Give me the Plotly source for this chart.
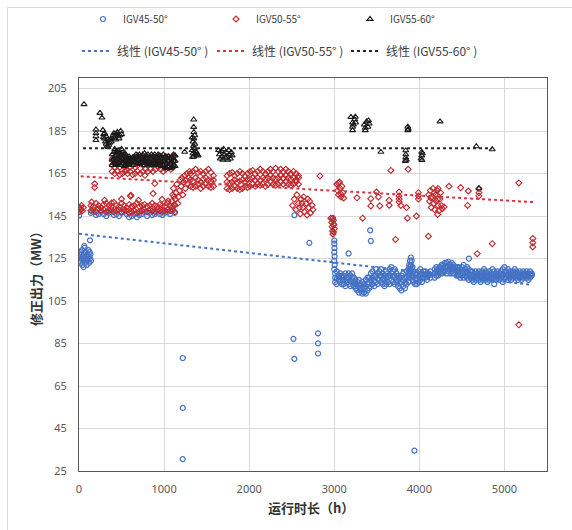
import plotly.graph_objects as go

# ================= DATA =================
# --- IGV45-50 (blue circles) ---
blue_start_x = [5,10,15,20,25,30,35,40,45,50,55,60,62,65,70,75,80,85,90,95,100,105,110,115,120,125,129,130,135,140]
blue_start_y = [126,124,128,123,127,125,129,122,126,124,121,127,131,130,125,123,128,126,122,124,127,125,129,126,123,128,133.6,125,127,124]

blue_low_x = [140,170,200,230,260,290,320,350,380,410,440,470,500,530,560,590,620,650,680,710,740,770,800,830,860,890,920,950,980,1010,1040,1070,1100,1125]
blue_low_y = [146.5,147,145.5,146,147,146,145,146.5,147,145.5,146,145,146.5,147,146,144.5,145,146,144.5,145.5,146,147,145,146.5,145.5,146,147,146,145.5,146.5,147,146,147.5,146.5]

blue_points = [(0,145.3),(1219,78.2),(1219,54.7),(1219,30.6),(2520,87.2),(2531,77.8),(2809,89.8),(2809,85.1),
               (2809,80.3),(2531,145.4),(2707,132.4),(3168,127.4),(3422,138.3),(3430,133.3),(3942,34.6),(4583,125),
               (2985,144),(2990,141),(3000,133.5),(3000,132),(3002,130),(3000,128),(3003,126),(3000,124),(3004,122),(3000,120)]

blue_band_x = [3010,3030,3050,3070,3090, 3110,3130,3150,3170,3190,3210,3230,3250, 3270,3290,3310,3330,3350,3370,3390,3410,
               3430,3450,3470,3490,3510,3530,3550,3570,3590, 3610,3630,3650,3670,3690,3710,3730,3750, 3770,3790,3810,3830,3850,
               3870,3880,3890,3900,3910,3920,3930,3950, 3970,3990,4010,4030,4050, 4070,4090,4110,4130,4180,4200,
               4220,4240,4260,4280,4300, 4320,4340,4360,4380,4400,4420,4440, 4460,4480,4500,4520,4540,4560,4580,4600,
               4620,4640,4660,4680,4700,4720,4740,4760,4780,4800, 4820,4840,4860,4880,4900,4920,4940,4960,4980,5000,
               5020,5040,5060,5080,5100,5120,5140,5160,5180,5200,5220,5240,5260,5280,5300,5320]
blue_band_lo = [114,113,115,114,113, 113,112,114,113,112,114,112,111, 110,109,110,108.5,109,108.5,110,111,
                112,113,112,114,113,115,114,113,112, 113,114,113,115,114,113,114,112, 111,110,112,111,113,
                114,116,118,119,117,115,114,113, 113,114,115,114,116, 116,115,117,116,116,117,
                117,118,118,119,119, 118,119,120,119,118,118,117, 117,116,117,116,117,116,115,116,
                115,114,115,116,115,114,115,116,115,114, 115,116,115,113,115,116,115,116,114,116,
                116,115,116,115,116,117,116,115,116,115,116,117,116,115,116,117]
blue_band_mid = [116,115.5,116.5,115,116, 115,114.5,115,116,114.5,116,114,113, 112,112.5,111,111.5,111,112,113,113.5,
                 115,116,114.5,117,115.5,117,117,115.5,114.5, 116,116.5,117,118,116.5,117,116,114.5, 113.5,114,115,113.5,116,
                 117,119,121,122,120.5,118,116.5,115.5, 115.5,116.5,117.5,116,117.5, 117.5,116.5,117.5,117.5,118,119,
                 118.5,119.5,120,120.5,121, 120.5,121,121,121,120,119.5,119, 119,118,119,119,118.5,118.5,117.5,117.5,
                 117,116,117,117,117,116,117,118,117,116, 117,117,117.5,116,116.5,117.5,116.5,117.5,117,118.5,
                 117.5,117.5,117.5,116.5,117.5,118.5,117.5,116.5,117.5,116.5,117.5,117.5,117.5,116.5,117.5,117.5]
blue_band_hi = [118,119,117,118,117, 117,118,116,118,117,118,116,115, 114,115,113,114,113,115,116,116,
                118,119,117,120,118,119,120,118,117, 119,118,120,121,119,120,118,117, 116,117,118,116,119,
                120,122,124,125.5,124,121,119,118, 118,119,120,118,119, 119,118,118,119,120,121,
                120,121,122,122,123, 123,123.5,122,123,122,121,121, 121,120,121,122,120,121,120,119,
                119,118,119,118,119,118,119,120,119,118, 119,118,120,119,118,119,118,119,120,121,
                119,120,119,118,119,120,119,118,119,118,119,118,119,118,119,118]

# --- IGV50-55 (red diamonds) ---
red_a_x = [140,170,200,230,260,290,320,350,380,410,440,470,500,530,560,590,620,650,680,710,740,770,800,830,860,890,920,950,980,1010,1040,1070,1100,1125]
red_a_lo = [147.5,148,147,148.5,147.5,148,147,147.5,148,147,147.5,148,147,148,147.5,146.5,147,147.5,146.5,147,
            147.5,148,147,148,147.5,147,148,147.5,147,147.5,148,147.5,148,147]
red_a_hi = [150,149.5,151,150,149,150.5,151,150,149.5,151.5,150,149.5,151,150,149,150.5,149.5,150,151,149.5,
            150,150.5,149.5,150,151,150,149.5,150.5,150,149.5,151,150,149.5,150]

red_b_x = [390,420,450,480,510,540,570,600,630,660,690,720,750,780,810,840,870,900,930,960,990,1020,1050,1080,1110]
red_b_lo = [166,165,166,164.5,165,166,165,166,164.5,165,166,165,166,167,166,167,166,167,168,167,166,167,168,167,168]
red_b_mid = [169,168,169,168,169,168,169,168,169,168,169,170,169,170,169,170,169,170,171,170,169,170,171,170,171]
red_b_hi = [172,171,172.5,171,173,172,171,172,171,172,171,173,172,172,171,172,171,172,173,172,172,173,173,172,173]

red_d_x = [1310,1340,1370,1400,1430,1460,1490,1520,1550,1580, 1740,1770,1800,1830,1860,1890,1920,1950,1980,2010,
           2040,2070,2100,2130,2160,2190,2220,2250,2280,2310, 2340,2370,2400,2430,2460,2490,2520,2550,2580]
red_d_lo = [159,158.5,159,160,158,159,160,159,158.5,159, 158,157.5,158,159,158,157.5,158,159,158.5,159,
            160,159,160,159.5,160,159,160,161,160,159.5, 160,161,160,161,160,159.5,160,161,160]
red_d_mid = [162,161.5,163,162,161,162.5,163,162,161.5,162, 161,160.5,161,162,161,161.5,162,161,162,162.5,
             163,162,163,162,163,162.5,163,164,163,162.5, 163,164,163,164,163,162.5,163,162,163]
red_d_hi = [165,166,167,165.5,166,165,166,167,165.5,164, 164,165,165.5,164,165,166,165,164,165,166,
            166.5,165,166,167,166,165,166,167,166,167.5, 166,167,166,167,166,165,166,165,164]

red_points = [(5,147),(10,149),(20,148),(30,150),(40,147.5),(50,149),(149,151.6),(383,151.2),(609,154.8),(871,155.6),
              (976,152.9),(1047,152.1),(1117,154.3),(625,149.3),(184,160.2),(184,158.5),(558,166.5),(774,164.2),
              (891,160.3),(605,154.3),(500,153),(700,152.5),(300,152.5),
              # rising cluster 1050-1300
              (1090,152),(1100,155),(1110,158),(1120,150.5),(1130,153),(1140,156),(1150,160),(1160,151),(1170,154),
              (1180,157),(1190,162),(1200,159),(1210,163),(1220,155),(1230,161),(1240,164),(1250,158),(1260,162),
              (1270,165),(1280,160),(1290,163),(1300,166),
              # cluster 2500-2750
              (2510,150),(2530,153),(2550,148),(2560,155),(2580,151),(2600,146),(2610,153),(2630,149),(2640,154),
              (2650,147),(2670,151),(2680,145.5),(2700,149),(2710,152),(2720,146.5),(2740,150),(2750,148),
              (2590,149),(2620,151),(2690,153),
              # near 3000
              (2960,144),(2970,142),(2975,140),(2980,138),(2985,136.5),(2990,143),(2995,141),(3000,139),(2980,144),(2990,137.5),
              (3030,160),(3040,157),(3050,155),(3060,161),(3070,158),(3080,154),(3090,159),(3100,156),(3110,153.5),
              (3050,160.5),(3075,155.5),
              # scattered 2800-5400
              (2832,163.9),(3665,166.5),(3868,167),(3267,153.6),(3430,153.2),(3496,156.3),(3519,154),(3430,149.8),
              (3535,149.8),(3645,152.4),(3645,150.1),(3762,156.3),(3762,154.5),(3762,153),(3762,151.6),(3848,149),
              (3782,150),(3989,156),(3989,154.5),(3989,153),(3333,144),(3860,144),(3965,145),(3720,134),(4106,135.5),
              (4348,159),(4485,158.4),(4575,156.8),(4567,150),(4700,158),(4700,156),(4700,154.5),(5169,160.6),
              (4680,127.3),(4856,132),(5333,134.4),(5333,132.5),(5333,130.5),(4215,145.8),(5169,93.8),
              # cluster 4100-4300
              (4110,155),(4120,152),(4130,157),(4140,149),(4150,154),(4160,158),(4170,151),(4180,148),(4190,155),
              (4200,152),(4210,157),(4220,150),(4230,147.5),(4240,153),(4250,156),(4260,150),(4270,148.5),
              (4135,153.5),(4175,156),(4215,153),(4219,158),(4290,149.3)]

# --- IGV55-60 (black triangles) ---
black_band_x = [390,410,430,450,470,490,510,530,550,570, 590,610,630,650,670,690,710,730,750,770,
                790,810,830,850,870,890,910,930,950,970, 990,1010,1030,1050,1070,1090,1110,1130]
black_band_lo = [169,170,169.5,169,170,169,170,168.5,169,170, 169.5,170,169,170.5,171,170,169.5,170,170.5,169,
                 170,169.5,170,169,170,169.5,169,170,169,168.5, 169,168,167.5,168,167.5,168,169,168.5]
black_band_mid = [171.5,172,171,172,171.5,171,172,171,171.5,171, 172,171,171.5,172,172.5,171.5,172,171,172,171.5,
                  172,171,171.5,172,171,171.5,171,172,171,170.5, 171,170.5,170,171,170,170.5,171,171]
black_band_hi = [174,175,173.5,174.5,173,174,173.5,174,173,172.5, 173,172,172.5,173,174,173.5,174,173,174,174.5,
                 173.5,174,173,174,173.5,174,173,174,173.5,173, 174,173,172.5,173,172,173,174,173.5]

black_points = [(59,197.6),(246,193.5),(270,191.3),(199,185.7),(199,184),(199,182.5),(199,180.7),(281,185.5),
                (290,183.5),(300,181.5),(310,180),(320,179),(330,178),(340,177.5),(350,178.5),(360,179.5),(370,181),
                (380,180),(390,181.5),(400,183),(410,184),(420,182),(430,181),(440,183.5),(450,184.5),(460,182.5),
                (470,181.5),(480,183),(490,185),(500,183.5),(340,181),(320,182.5),(300,184),(285,182),
                (420,176.5),(440,175.5),(460,176),(480,175),(500,176.5),(520,175),(540,174.5),
                (1242,175.2),(1348,190.4),(1348,186.9),(1330,182),(1340,180),(1350,181.5),(1360,179),(1345,178),
                (1355,177),(1330,176),(1365,175.5),(1340,174.5),(1370,174),(1350,173),(1380,175),(1390,174),
                (1400,173.5),(1335,172.8),(1360,183),(1350,184.5),
                (1640,176),(1650,174),(1660,172),(1670,175.5),(1680,173),(1690,171.5),(1700,176.5),(1710,174),
                (1720,172.5),(1730,175),(1740,173),(1750,171.5),(1760,176),(1770,174),(1780,172),(1790,175),(1800,173.5),
                (3196,191.6),(3215,189),(3215,187),(3215,185.4),(3225,188),(3240,190.5),(3247,191.7),(3250,189),
                (3352,188),(3364,186.5),(3364,185.4),(3380,189.5),(3403,190),(3410,188.5),(3395,187),
                (3864,187),(3864,185.4),(3870,186),(3548,175.2),(3840,175.9),(3840,174),(3840,172.5),(3835,170.9),
                (3845,171.5),(4028,175.2),(4028,173.5),(4020,172),(4030,171.3),(4035,174.5),(4243,189.5),
                (4669,177.8),(4856,176.4),(4700,158)]

# --- linear trend lines (start/end) ---
trend_names = ["线性 (IGV45-50° )", "线性 (IGV50-55° )", "线性 (IGV55-60° )"]
trend_x0 = [0, 20, 47]
trend_x1 = [5290, 5334, 4856]
trend_y0 = [136.7, 163.7, 176.9]
trend_y1 = [112.8, 151.6, 176.9]

series_names = ["IGV45-50°", "IGV50-55°", "IGV55-60°"]
x_ticks = [0, 1000, 2000, 3000, 4000, 5000]
y_ticks = [25, 45, 65, 85, 105, 125, 145, 165, 185, 205]

# ================= BUILD =================
assert len(blue_band_x) == len(blue_band_lo) == len(blue_band_mid) == len(blue_band_hi)
assert len(blue_start_x) == len(blue_start_y) and len(blue_low_x) == len(blue_low_y)
assert len(red_a_x) == len(red_a_lo) == len(red_a_hi)
assert len(red_b_x) == len(red_b_lo) == len(red_b_mid) == len(red_b_hi)
assert len(red_d_x) == len(red_d_lo) == len(red_d_mid) == len(red_d_hi)
assert len(black_band_x) == len(black_band_lo) == len(black_band_mid) == len(black_band_hi)

bx = blue_start_x + blue_low_x + [p[0] for p in blue_points] + blue_band_x * 3
by = blue_start_y + blue_low_y + [p[1] for p in blue_points] + blue_band_lo + blue_band_mid + blue_band_hi

rx = red_a_x * 2 + red_b_x * 3 + red_d_x * 3 + [p[0] for p in red_points]
ry = red_a_lo + red_a_hi + red_b_lo + red_b_mid + red_b_hi + red_d_lo + red_d_mid + red_d_hi + [p[1] for p in red_points]

kx = [p[0] for p in black_points] + black_band_x * 3
ky = [p[1] for p in black_points] + black_band_lo + black_band_mid + black_band_hi

BLUE = "#4472C4"
RED = "#C0282D"
BLACK = "#1A1A1A"
colors = [BLUE, RED, BLACK]
trend_colors = [BLUE, "#D0393E", "#262626"]

W, H = 572, 530
L, R, T, B = 79, 25, 78, 59
pw, ph = W - L - R, H - T - B

fig = go.Figure()
fig.add_trace(go.Scatter(x=bx, y=by, mode="markers", name=series_names[0], legend="legend",
                         marker=dict(symbol="circle-open", size=5, color=BLUE, line=dict(width=1.2))))
fig.add_trace(go.Scatter(x=rx, y=ry, mode="markers", name=series_names[1], legend="legend2",
                         marker=dict(symbol="diamond-open", size=4.6, color=RED, line=dict(width=1.1))))
fig.add_trace(go.Scatter(x=kx, y=ky, mode="markers", name=series_names[2], legend="legend3",
                         marker=dict(symbol="triangle-up-open", size=5.3, color=BLACK, line=dict(width=1.1))))
for i in range(3):
    fig.add_trace(go.Scatter(x=[trend_x0[i], trend_x1[i]], y=[trend_y0[i], trend_y1[i]], mode="lines",
                             name=trend_names[i], legend="legend%d" % (i + 4),
                             line=dict(color=trend_colors[i], width=2, dash="dot")))

def px2paper_x(px):
    return (px - L) / pw

def px2paper_y(py):
    return (H - B - py) / ph

tick_font = dict(family="Noto Sans, Noto Sans CJK SC", size=11, color="#595959")

legend_left = [83, 216, 350, 77, 212, 346]
legend_mid_y = [19, 19, 19, 51, 51, 51]
legend_fonts = [10, 10, 10, 12, 12, 12]
legends = {}
for i in range(6):
    key = "legend" if i == 0 else "legend%d" % (i + 1)
    legends[key] = dict(orientation="h", xref="container", yref="container",
                        x=legend_left[i] / W, y=1 - legend_mid_y[i] / H,
                        xanchor="left", yanchor="middle", bgcolor="rgba(0,0,0,0)",
                        font=dict(family="Noto Sans CJK SC", size=legend_fonts[i], color="#404040"))

fig.update_layout(
    width=W, height=H, autosize=False,
    margin=dict(l=L, r=R, t=T, b=B),
    paper_bgcolor="white", plot_bgcolor="white",
    font=dict(family="Noto Sans CJK SC, Noto Sans", color="#595959"),
    xaxis=dict(range=[0, 5500], tickvals=x_ticks, ticktext=[str(v) for v in x_ticks],
               showgrid=True, gridcolor="#D9D9D9", gridwidth=1, zeroline=False,
               showline=True, linecolor="#595959", linewidth=1, mirror=True,
               ticks="", tickfont=tick_font, ticklabelstandoff=8),
    yaxis=dict(range=[25, 210], tickvals=y_ticks, ticktext=[str(v) for v in y_ticks],
               showgrid=True, gridcolor="#D9D9D9", gridwidth=1, zeroline=False,
               showline=True, linecolor="#595959", linewidth=1, mirror=True,
               ticks="", tickfont=tick_font, ticklabelstandoff=9),
    showlegend=True,
    **legends,
)

fig.add_annotation(text="修正出力（MW）", xref="paper", yref="paper", x=px2paper_x(35), y=px2paper_y(276),
                   textangle=-90, showarrow=False, xanchor="center", yanchor="middle",
                   font=dict(family="Noto Sans CJK SC", size=13, color="#333333", weight="bold"))
fig.add_annotation(text="运行时长（h）", xref="paper", yref="paper", x=px2paper_x(311), y=px2paper_y(507),
                   showarrow=False, xanchor="center", yanchor="middle",
                   font=dict(family="Noto Sans CJK SC", size=13, color="#333333", weight="bold"))

# outer chart border (left/top visible in the reference)
fig.add_shape(type="rect", xref="paper", yref="paper",
              x0=px2paper_x(7.5), y0=px2paper_y(600), x1=px2paper_x(700), y1=px2paper_y(7.5),
              line=dict(color="#D9D9D9", width=1), fillcolor="rgba(0,0,0,0)", layer="below")

fig.write_html("out.html", config={"displayModeBar": False},
               post_script="document.body.style.margin='0';document.body.style.overflow='hidden';")
